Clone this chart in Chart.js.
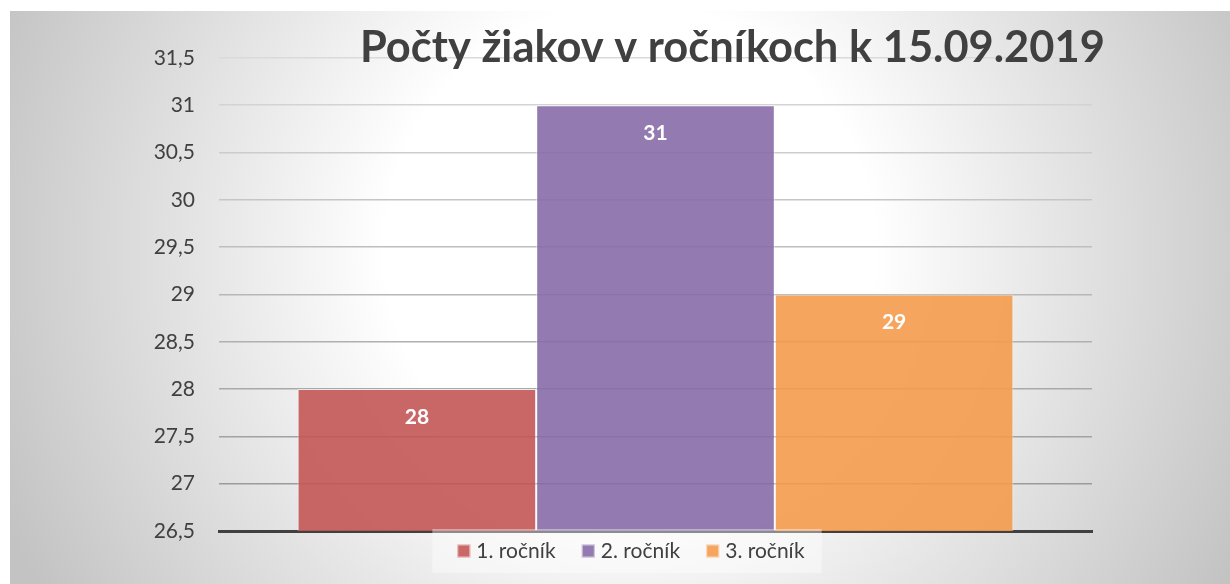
<!DOCTYPE html>
<html>
<head>
<meta charset="utf-8">
<script src="https://cdn.jsdelivr.net/npm/chart.js@4.4.1/dist/chart.umd.min.js"></script>
<style>
  html, body { margin: 0; padding: 0; background: #ffffff; overflow: hidden; }
  #wrap { width: 1230px; height: 584px; position: relative; }
</style>
</head>
<body>
<div id="wrap"><canvas id="c" width="1230" height="584"></canvas></div>
<script>
// ---- data ----
const titleText = 'Počty žiakov v ročníkoch k 15.09.2019';
const categories = [''];
const seriesNames = ['1. ročník', '2. ročník', '3. ročník'];
const series1 = [28];
const series2 = [31];
const series3 = [29];
const yTickValues = [26.5, 27, 27.5, 28, 28.5, 29, 29.5, 30, 30.5, 31, 31.5];
const yTickLabels = ['26,5', '27', '27,5', '28', '28,5', '29', '29,5', '30', '30,5', '31', '31,5'];

// ---- styles ----
const FONT = 'Lato, "Open Sans", sans-serif';
const barColors = ['rgba(195,87,85,0.9)', 'rgba(135,107,167,0.9)', 'rgba(245,155,78,0.9)'];
const legendColors = ['#c96866', '#937ab0', '#f6a560'];
const TEXT = '#404040';

const backgroundPlugin = {
  id: 'bg',
  beforeDraw(chart) {
    const ctx = chart.ctx;
    ctx.save();
    ctx.fillStyle = '#ffffff';
    ctx.fillRect(0, 0, chart.width, chart.height);
    const g = ctx.createRadialGradient(630, 250, 0, 630, 250, 680);
    g.addColorStop(0, '#ffffff');
    g.addColorStop(0.36, '#ffffff');
    g.addColorStop(0.6, '#e8e8e8');
    g.addColorStop(1, '#c3c3c3');
    ctx.fillStyle = g;
    ctx.fillRect(10, 11, chart.width - 10, chart.height - 11);
    ctx.restore();
  }
};

const titlePlugin = {
  id: 'titleText',
  afterDraw(chart) {
    const ctx = chart.ctx;
    ctx.save();
    let size = 40;
    ctx.font = 'bold ' + size + 'px ' + FONT;
    const w = ctx.measureText(titleText).width;
    size = size * 745 / w;
    ctx.font = 'bold ' + size.toFixed(2) + 'px ' + FONT;
    ctx.fillStyle = TEXT;
    ctx.textAlign = 'left';
    ctx.textBaseline = 'alphabetic';
    ctx.fillText(titleText, 360, 62);
    ctx.restore();
  }
};

const valueLabelPlugin = {
  id: 'valueLabels',
  afterDatasetsDraw(chart) {
    const ctx = chart.ctx;
    ctx.save();
    ctx.font = 'bold 21px ' + FONT;
    ctx.fillStyle = '#ffffff';
    ctx.textAlign = 'center';
    ctx.textBaseline = 'middle';
    chart.data.datasets.forEach((ds, i) => {
      const meta = chart.getDatasetMeta(i);
      meta.data.forEach((el, j) => {
        ctx.fillText(String(ds.data[j]), el.x, el.y + 28);
      });
    });
    ctx.restore();
  }
};

const legendPlugin = {
  id: 'customLegend',
  afterDraw(chart) {
    const ctx = chart.ctx;
    ctx.save();
    ctx.font = '21px ' + FONT;
    const box = 13, gapBox = 6, gapItem = 26;
    const items = chart.data.datasets.map((ds, i) => ({
      text: ds.label, color: legendColors[i], w: box + gapBox + ctx.measureText(ds.label).width
    }));
    const total = items.reduce((s, it) => s + it.w, 0) + gapItem * (items.length - 1);
    const cx = 631;
    let x = cx - total / 2;
    const yc = 551;
    // legend background
    ctx.fillStyle = 'rgba(255,255,255,0.4)';
    ctx.fillRect(x - 25, 529, total + 42, 44);
    ctx.textBaseline = 'middle';
    ctx.textAlign = 'left';
    items.forEach(it => {
      ctx.fillStyle = it.color;
      ctx.fillRect(x, yc - box / 2, box, box);
      ctx.strokeStyle = 'rgba(255,255,255,0.6)';
      ctx.lineWidth = 1;
      ctx.strokeRect(x + 0.5, yc - box / 2 + 0.5, box - 1, box - 1);
      ctx.fillStyle = TEXT;
      ctx.fillText(it.text, x + box + gapBox, yc);
      x += it.w + gapItem;
    });
    ctx.restore();
  }
};

function gridColor(ctx) {
  const v = ctx.tick ? ctx.tick.value : 31.5;
  const t = (31.5 - v) / 5; // 0 top -> 1 bottom
  const c = Math.round(218 - t * 70);
  return 'rgb(' + c + ',' + c + ',' + c + ')';
}

const seriesValues = [series1, series2, series3];

new Chart(document.getElementById('c'), {
  type: 'bar',
  data: {
    labels: categories,
    datasets: seriesNames.map((name, i) => ({
      label: name,
      data: seriesValues[i],
      backgroundColor: barColors[i],
      borderColor: 'rgba(255,255,255,0.55)',
      borderWidth: 1,
      categoryPercentage: 0.82,
      barPercentage: 1.0
    }))
  },
  options: {
    responsive: false,
    animation: false,
    devicePixelRatio: 1,
    layout: { padding: { left: 0, right: 138, top: 58, bottom: 53 } },
    plugins: {
      legend: { display: false },
      title: { display: false },
      tooltip: { enabled: false }
    },
    scales: {
      x: {
        ticks: { display: false },
        grid: { display: false, drawTicks: false },
        border: { display: true, color: '#404040', width: 3 }
      },
      y: {
        min: 26.5,
        max: 31.5,
        afterFit(scale) { scale.width = 219; },
        afterBuildTicks(scale) { scale.ticks = yTickValues.map(v => ({ value: v })); },
        ticks: {
          padding: 24,
          color: TEXT,
          font: { family: FONT, size: 21 },
          callback: (v) => {
            const k = yTickValues.indexOf(v);
            return k >= 0 ? yTickLabels[k] : '';
          }
        },
        grid: { color: gridColor, lineWidth: 1.6, drawTicks: false },
        border: { display: false }
      }
    }
  },
  plugins: [backgroundPlugin, valueLabelPlugin, titlePlugin, legendPlugin]
});
</script>
</body>
</html>
